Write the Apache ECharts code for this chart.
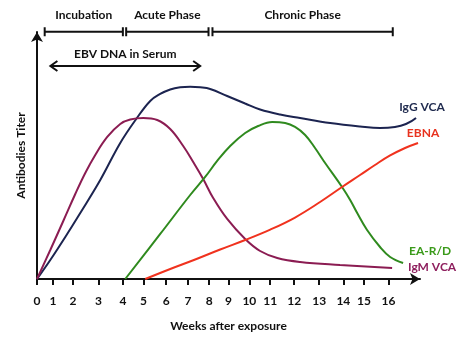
<!DOCTYPE html>
<html><head><meta charset="utf-8">
<script src="https://cdn.jsdelivr.net/npm/echarts@6/dist/echarts.min.js"></script>
<style>html,body{margin:0;padding:0;background:#fff}#c{width:474px;height:345px}</style>
</head><body><div id="c"></div>
<script>
// Tick labels (weeks) and their positions along the drawn (non-uniform) axis
const weekLabels = ['0','1','2','3','4','5','6','7','8','9','10','11','12','13','14','15','16'];
const tickPos = [0,0.73,1.64,2.80,3.91,4.85,5.88,6.87,7.84,8.72,9.67,10.62,11.71,12.85,13.95,14.89,16];

// Series (x in axis position units, y = titer in arbitrary units)
const igGX = [0,0.605,1.288,1.970,2.881,3.791,4.519,5.156,5.610,6.065,6.520,6.975,7.430,7.885,8.658,9.477,10.16,11.07,11.98,13.35,14.71,15.62,16.30,16.80,17.26];
const igGY = [0,7.54,16.67,26.19,39.29,53.97,63.49,70.63,73.41,75.20,76.07,76.31,76.07,75.40,72.62,69.64,67.26,65.28,63.89,61.90,60.52,59.92,60.32,61.51,63.89];
const igMX = [0,0.605,1.197,1.743,2.198,2.653,3.199,3.791,4.246,4.838,5.475,6.065,6.657,7.112,7.567,8.022,8.660,9.479,10.16,10.94,11.98,13.80,16.17];
const igMY = [0,11.51,23.02,33.73,42.06,49.21,56.35,61.51,63.29,63.89,63.10,59.52,52.78,46.43,39.68,32.14,23.81,15.87,11.11,8.33,6.75,5.56,4.37];
const eaX = [4.018,5.611,6.976,7.658,8.204,8.796,9.479,10.07,10.71,11.30,11.75,12.21,12.66,13.12,13.89,14.26,14.58,15.03,15.62,16.08,16.67];
const eaY = [0,17.86,33.33,40.48,46.83,52.78,57.94,60.71,62.30,61.90,60.32,57.14,51.98,46.03,36.51,31.35,26.19,19.44,12.70,8.73,6.35];
const ebnaX = [4.929,6.067,7.204,8.341,9.479,10.62,11.75,12.89,13.89,14.71,15.39,16.08,16.76,17.35];
const ebnaY = [0,3.97,7.74,11.71,15.48,19.60,24.40,30.55,36.51,41.27,45.24,49.01,51.98,53.97];

// Phase annotations
const phaseNames = ['Incubation','Acute Phase','Chronic Phase'];
const phaseStart = [0.35,4.06,7.99];
const phaseEnd = [3.91,7.81,16.2];
const phaseLevel = 98.1;
const dnaText = 'EBV DNA in Serum';
const dnaStart = 0.61, dnaEnd = 7.43, dnaLevel = 84.5;

const FONT = 'Lato, "Open Sans", sans-serif';
const pairs = (xs, ys) => xs.map((x, i) => [x, ys[i]]);

function lineSeries(name, xs, ys, color, labelColor, offset) {
  return {
    type: 'line', name, data: pairs(xs, ys), smooth: 0.4, showSymbol: false, symbol: 'none',
    lineStyle: { color, width: 2 }, itemStyle: { color },
    endLabel: { show: true, formatter: name, color: labelColor, fontFamily: FONT, fontWeight: 'bold',
      fontSize: 12, distance: 0, align: 'center', verticalAlign: 'middle', offset }
  };
}

const chart = echarts.init(document.getElementById('c'));
chart.setOption({
  animation: false,
  backgroundColor: '#fff',
  grid: { left: 37, right: 54, top: 32, bottom: 66 },
  xAxis: {
    type: 'value', min: 0, max: 17.44,
    name: 'Weeks after exposure', nameLocation: 'middle', nameGap: 41,
    nameTextStyle: { fontFamily: FONT, fontWeight: 'bold', fontSize: 12, color: '#111' },
    axisLine: { show: true, lineStyle: { color: '#111', width: 2 }, symbol: ['none', 'arrow'], symbolSize: [9, 10] },
    axisTick: { show: true, customValues: tickPos, length: 6, lineStyle: { color: '#111', width: 2 } },
    axisLabel: { customValues: tickPos, margin: 16, fontFamily: FONT, fontWeight: 'bold', fontSize: 12, color: '#111',
      formatter: v => weekLabels[tickPos.indexOf(v)] },
    splitLine: { show: false }
  },
  yAxis: {
    type: 'value', min: 0, max: 98,
    name: 'Antibodies Titer', nameLocation: 'middle', nameGap: 10, nameRotate: 90,
    nameTextStyle: { fontFamily: FONT, fontWeight: 'bold', fontSize: 12, color: '#111' },
    axisLine: { show: true, lineStyle: { color: '#111', width: 2 }, symbol: ['none', 'arrow'], symbolSize: [9, 10] },
    axisTick: { show: false }, axisLabel: { show: false }, splitLine: { show: false }
  },
  series: [
    lineSeries('IgG VCA', igGX, igGY, '#1c2450', '#1f2a4e', [6, -11]),
    lineSeries('IgM VCA', igMX, igMY, '#8b1c52', '#8e1f5e', [40, -1]),
    lineSeries('EA-R/D', eaX, eaY, '#2f8a1e', '#3a9a1a', [27, -12]),
    lineSeries('EBNA', ebnaX, ebnaY, '#f0321e', '#e8321e', [5, -10]),
    {
      type: 'custom', name: 'phases', clip: false,
      data: phaseStart.map((s, i) => [s, phaseEnd[i], phaseLevel]),
      encode: { x: [0, 1], y: 2 },
      renderItem: (params, api) => {
        const a = api.coord([api.value(0), api.value(2)]);
        const b = api.coord([api.value(1), api.value(2)]);
        const st = { stroke: '#111', lineWidth: 2 };
        return { type: 'group', children: [
          { type: 'line', shape: { x1: a[0], y1: a[1], x2: b[0], y2: b[1] }, style: st },
          { type: 'line', shape: { x1: a[0], y1: a[1] - 4.5, x2: a[0], y2: a[1] + 4.5 }, style: st },
          { type: 'line', shape: { x1: b[0], y1: b[1] - 4.5, x2: b[0], y2: b[1] + 4.5 }, style: st },
          { type: 'text', style: { text: phaseNames[params.dataIndex], x: (a[0] + b[0]) / 2, y: a[1] - 17,
            align: 'center', verticalAlign: 'middle', font: 'bold 12px ' + FONT, fill: '#111' } }
        ] };
      }
    },
    {
      type: 'custom', name: 'dna', clip: false,
      data: [[dnaStart, dnaEnd, dnaLevel]],
      encode: { x: [0, 1], y: 2 },
      renderItem: (params, api) => {
        const a = api.coord([api.value(0), api.value(2)]);
        const b = api.coord([api.value(1), api.value(2)]);
        const st = { stroke: '#111', lineWidth: 2, fill: null };
        return { type: 'group', children: [
          { type: 'line', shape: { x1: a[0], y1: a[1], x2: b[0], y2: b[1] }, style: st },
          { type: 'polyline', shape: { points: [[a[0] + 7, a[1] - 5], [a[0], a[1]], [a[0] + 7, a[1] + 5]] }, style: st },
          { type: 'polyline', shape: { points: [[b[0] - 7, b[1] - 5], [b[0], b[1]], [b[0] - 7, b[1] + 5]] }, style: st },
          { type: 'text', style: { text: dnaText, x: (a[0] + b[0]) / 2, y: a[1] - 12,
            align: 'center', verticalAlign: 'middle', font: 'bold 12px ' + FONT, fill: '#111' } }
        ] };
      }
    }
  ]
});
</script></body></html>
